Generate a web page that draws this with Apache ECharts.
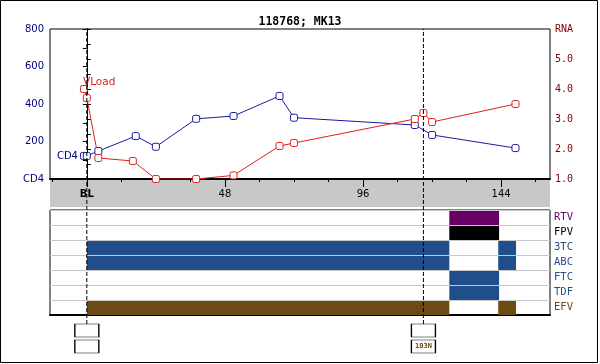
<!DOCTYPE html>
<html>
<head>
<meta charset="utf-8">
<script src="https://cdn.jsdelivr.net/npm/echarts@6/dist/echarts.min.js"></script>
<style>
html,body{margin:0;padding:0;background:#fff;}
#c{width:600px;height:364px;}
</style>
</head>
<body>
<div id="c"></div>
<script>
// ---- data ----
var titleText = '118768; MK13';
var cd4Weeks = [-1, 0, 4, 17, 24, 38, 51, 67, 72, 114, 120, 149];
var cd4Values = [123, 123, 149, 229, 172, 321, 336, 443, 327, 288, 235, 165];
var rnaWeeks = [-1, 0, 4, 16, 24, 38, 51, 67, 72, 114, 117, 120, 149];
var rnaValues = [4.0, 3.7, 1.7, 1.6, 1.0, 1.0, 1.12, 2.1, 2.2, 3.0, 3.2, 2.9, 3.5];
var xLabelWeeks = [0, 48, 96, 144];
var xMinorWeeks = [-12, 12, 24, 36, 60, 72, 84, 108, 120, 132, 156];
var drugs = ['RTV', 'FPV', '3TC', 'ABC', 'FTC', 'TDF', 'EFV'];
var drugColors = ['#660066', '#000000', '#1f4e8a', '#1f4e8a', '#1f4e8a', '#1f4e8a', '#6b4a14'];
var drugLabelColors = ['#660066', '#000000', '#2a4f85', '#2a4f85', '#2a4f85', '#2a4f85', '#6b4a14'];
// [drug index, start week, end week]
var drugSpans = [
  [0, 126, 143.3], [1, 126, 143.3],
  [2, 0, 126], [2, 143, 149.2],
  [3, 0, 126], [3, 143, 149.2],
  [4, 126, 143.3], [5, 126, 143.3],
  [6, 0, 126], [6, 143, 149.2]
];
var eventWeeks = [0, 117];
var eventLabels = ['', '103N'];

var XMIN = -12.8, XMAX = 161;

var chart = echarts.init(document.getElementById('c'), null, {renderer: 'canvas'});

function spanSeriesData() {
  return drugSpans.map(function (d) { return [d[0], d[1], d[2]]; });
}

var boxData = [];
eventWeeks.forEach(function (w, i) {
  boxData.push({value: [w, 0], label: {show: false}});
  boxData.push({value: [w, 1], label: {show: !!eventLabels[i], formatter: eventLabels[i]}});
});

var option = {
  animation: false,
  backgroundColor: '#fff',
  title: {
    text: titleText, left: 'center', top: 11,
    textStyle: {fontFamily: 'DejaVu Sans Mono', fontWeight: 'bold', fontSize: 11.5, color: '#000'}
  },
  graphic: [{
    type: 'rect', shape: {x: 0.5, y: 0.5, width: 597, height: 362},
    style: {fill: 'none', stroke: '#000', lineWidth: 1}, silent: true, z: 100
  }],
  grid: [
    {left: 50, top: 29, width: 500, height: 150, show: true, borderColor: '#000', borderWidth: 1, backgroundColor: '#fff', containLabel: false},
    {left: 50, top: 180, width: 500, height: 27, show: true, borderWidth: 0, backgroundColor: '#c8c8c8'},
    {left: 50, top: 210, width: 500, height: 105, show: true, borderColor: '#000', borderWidth: 1, backgroundColor: '#fff'},
    {left: 50, top: 29, width: 500, height: 295, show: false},
    {left: 50, top: 322.5, width: 500, height: 32, show: false}
  ],
  xAxis: [
    {gridIndex: 0, type: 'value', min: XMIN, max: XMAX, position: 'bottom',
      axisLine: {show: true, lineStyle: {color: '#000', width: 2}},
      axisTick: {show: true, customValues: xLabelWeeks, length: 8, lineStyle: {color: '#000'}},
      axisLabel: {show: true, customValues: xLabelWeeks, margin: 10,
        fontFamily: 'DejaVu Sans', fontSize: 10, color: '#000',
        formatter: function (v) { return v === 0 ? '{b|BL}' : String(v); },
        rich: {b: {fontWeight: 'bold', fontFamily: 'DejaVu Sans', fontSize: 10, color: '#000'}}},
      splitLine: {show: false}},
    {gridIndex: 0, type: 'value', min: XMIN, max: XMAX, position: 'bottom',
      axisLine: {show: false},
      axisTick: {show: true, customValues: xMinorWeeks, length: 3, lineStyle: {color: '#000'}},
      axisLabel: {show: false}, splitLine: {show: false}},
    {gridIndex: 1, type: 'value', min: XMIN, max: XMAX, show: false},
    {gridIndex: 2, type: 'value', min: XMIN, max: XMAX, position: 'bottom',
      axisLine: {show: true, lineStyle: {color: '#000', width: 2}},
      axisTick: {show: false}, axisLabel: {show: false}, splitLine: {show: false}},
    {gridIndex: 3, type: 'value', min: XMIN, max: XMAX, show: false},
    {gridIndex: 4, type: 'value', min: XMIN, max: XMAX, show: false}
  ],
  yAxis: [
    {gridIndex: 0, type: 'value', min: 0, max: 800, interval: 200, position: 'left',
      axisLine: {show: true, lineStyle: {color: '#000', width: 1}},
      axisTick: {show: true, length: 4, lineStyle: {color: '#000'}},
      minorTick: {show: true, splitNumber: 2, length: 4, lineStyle: {color: '#000'}},
      axisLabel: {margin: 6, fontFamily: 'DejaVu Sans', fontSize: 10, color: '#000080',
        formatter: function (v) { return v === 0 ? 'CD4' : String(v); }},
      splitLine: {show: false}},
    {gridIndex: 0, type: 'value', min: 1, max: 6, interval: 1, position: 'right',
      axisLine: {show: true, lineStyle: {color: '#000', width: 1}},
      axisTick: {show: true, length: 4, lineStyle: {color: '#000'}},
      minorTick: {show: true, splitNumber: 2, length: 4, lineStyle: {color: '#000'}},
      axisLabel: {margin: 5, fontFamily: 'DejaVu Sans Mono', fontSize: 10, color: '#800000',
        formatter: function (v) { return v === 6 ? 'RNA' : v.toFixed(1); }},
      splitLine: {show: false}},
    {gridIndex: 1, type: 'value', min: 0, max: 1, show: false},
    {gridIndex: 2, type: 'category', data: drugs, inverse: true, position: 'right',
      axisLine: {show: false}, axisTick: {show: false},
      axisLabel: {margin: 4, fontFamily: 'DejaVu Sans Mono', fontSize: 10.5,
        color: function (v, i) { return drugLabelColors[drugs.indexOf(v)]; }},
      splitLine: {show: true, lineStyle: {color: '#c8c8c8', width: 1}}},
    {gridIndex: 3, type: 'value', min: 0, max: 1, show: false},
    {gridIndex: 4, type: 'category', data: ['a', 'b'], inverse: true, show: false}
  ],
  series: [
    {
      name: 'CD4', type: 'line', xAxisIndex: 0, yAxisIndex: 0,
      data: cd4Weeks.map(function (w, i) {
        var item = {value: [w, cd4Values[i]]};
        if (i === 0) item.label = {show: true, position: 'left', distance: 2, formatter: 'CD4',
          fontFamily: 'DejaVu Sans', fontSize: 10, color: '#000080'};
        return item;
      }),
      symbol: 'roundRect', symbolSize: 7,
      itemStyle: {color: '#fff', borderColor: '#1a1a9e', borderWidth: 1},
      lineStyle: {color: '#1a1a9e', width: 1}, z: 3
    },
    {
      name: 'VLoad', type: 'line', xAxisIndex: 0, yAxisIndex: 1,
      data: rnaWeeks.map(function (w, i) {
        var item = {value: [w, rnaValues[i]]};
        if (i === 0) item.label = {show: true, position: 'top', align: 'left', distance: 0, offset: [-1, 3],
          formatter: 'VLoad', fontFamily: 'DejaVu Sans', fontSize: 10.5, color: '#dd1f1f'};
        return item;
      }),
      symbol: 'roundRect', symbolSize: 7,
      itemStyle: {color: '#fff', borderColor: '#dd2020', borderWidth: 1},
      lineStyle: {color: '#dd2020', width: 1}, z: 3
    },
    {
      name: 'drugs', type: 'custom', xAxisIndex: 3, yAxisIndex: 3,
      encode: {x: [1, 2], y: 0},
      data: spanSeriesData(),
      renderItem: function (params, api) {
        var row = api.value(0);
        var p0 = api.coord([api.value(1), row]);
        var p1 = api.coord([api.value(2), row]);
        var h = api.size([0, 1])[1];
        return {
          type: 'rect',
          shape: {x: p0[0], y: p0[1] - h / 2 + 1, width: p1[0] - p0[0], height: h - 1},
          style: {fill: drugColors[row]}
        };
      },
      z: 2
    }
  ].concat(eventWeeks.map(function (w) {
    return {
      type: 'line', xAxisIndex: 4, yAxisIndex: 4,
      data: [[w, 0], [w, 1]], symbol: 'none',
      lineStyle: {color: '#000', width: 1, type: [4, 2]}, z: 5, silent: true
    };
  })).concat([{
    type: 'scatter', xAxisIndex: 5, yAxisIndex: 5,
    data: boxData,
    symbol: 'rect', symbolSize: [24, 13],
    itemStyle: {color: '#fff', borderColor: '#000', borderWidth: 1, opacity: 1},
    label: {position: 'inside', fontFamily: 'DejaVu Sans Mono', fontWeight: 'bold', fontSize: 7, color: '#6b4a14'},
    z: 6, silent: true
  }])
};

chart.setOption(option);
</script>
</body>
</html>
